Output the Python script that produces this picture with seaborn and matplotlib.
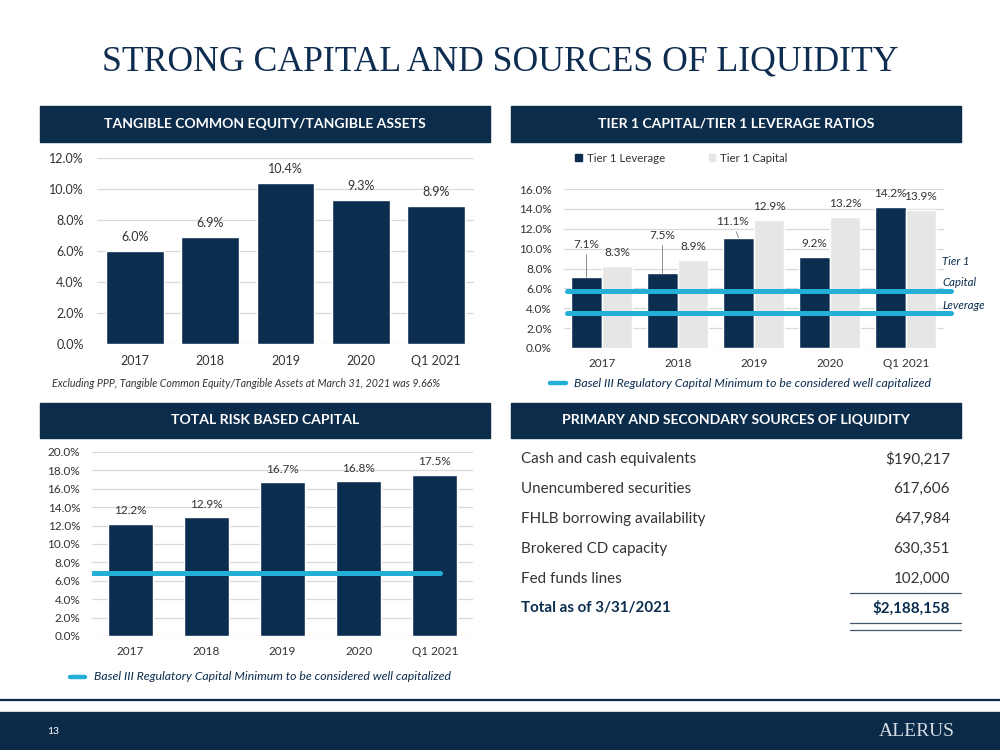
import numpy as np
import pandas as pd
import matplotlib
matplotlib.use('Agg')
import matplotlib.pyplot as plt
import seaborn as sns
from matplotlib.patches import Rectangle, Patch
from matplotlib.lines import Line2D
from matplotlib.ticker import FuncFormatter

# ---- data ----
periods = ['2017', '2018', '2019', '2020', 'Q1 2021']
tce_ratio = [6.0, 6.9, 10.4, 9.3, 8.9]
tier1_leverage = [7.1, 7.5, 11.1, 9.2, 14.2]
tier1_capital = [8.3, 8.9, 12.9, 13.2, 13.9]
total_risk_capital = [12.2, 12.9, 16.7, 16.8, 17.5]
basel_tier1_capital = 5.7
basel_tier1_leverage = 3.5
basel_total_risk = 6.8

liquidity_items = ['Cash and cash equivalents', 'Unencumbered securities',
                   'FHLB borrowing availability', 'Brokered CD capacity',
                   'Fed funds lines']
liquidity_values = [190217, 617606, 647984, 630351, 102000]
liquidity_total_label = 'Total as of 3/31/2021'

NAVY = '#0b2d4f'
HEADER = '#0c2c4c'
LIGHT = '#e6e6e6'
CYAN = '#23afd6'
TEXT = '#333333'
GRID = '#d9d9d9'

sns.set_style('white')
plt.rcParams['font.family'] = ['Lato', 'DejaVu Sans']

W, H = 1000, 750
fig = plt.figure(figsize=(10, 7.5), dpi=100)


def fx(x):
    return x / W


def fy(y):
    return 1 - y / H


def box(x0, y0, x1, y1):
    return [fx(x0), fy(y1), (x1 - x0) / W, (y1 - y0) / H]


def header(x0, y0, x1, y1, text):
    fig.add_artist(Rectangle((fx(x0), fy(y1)), (x1 - x0) / W, (y1 - y0) / H,
                             transform=fig.transFigure, color=HEADER, zorder=0))
    fig.text(fx((x0 + x1) / 2), fy((y0 + y1) / 2), text, color='white',
             fontsize=10.1, fontweight='bold', ha='center', va='center')


def style_axes(ax, ymax, size, ypad, xpad):
    ax.set_xlim(-0.5, 4.5)
    ax.set_ylim(0, ymax)
    ax.set_yticks(np.arange(0, ymax + 0.1, 2))
    ax.yaxis.set_major_formatter(FuncFormatter(lambda v, p: f'{v:.1f}%'))
    ax.grid(axis='y', color=GRID, lw=0.9)
    ax.grid(axis='x', visible=False)
    ax.set_axisbelow(True)
    sns.despine(ax=ax, left=True, bottom=True)
    ax.tick_params(axis='both', length=0, labelsize=size, colors=TEXT)
    ax.tick_params(axis='y', pad=ypad)
    ax.tick_params(axis='x', pad=xpad)
    ax.set_xlabel('')
    ax.set_ylabel('')


def label_bar(ax, bar, size, dx=0, dy=13, leader=False):
    x = bar.get_x() + bar.get_width() / 2
    h = bar.get_height()
    kw = {}
    if leader:
        kw['arrowprops'] = dict(arrowstyle='-', color='#8c8c8c', lw=0.7,
                                shrinkA=1, shrinkB=0)
    ax.annotate(f'{h:.1f}%', xy=(x, h), xytext=(dx * 0.72, dy * 0.72),
                textcoords='offset points', ha='center', va='center',
                fontsize=size, color=TEXT, **kw)


# ---- title ----
fig.text(0.5, fy(62), 'STRONG CAPITAL AND SOURCES OF LIQUIDITY',
         family='Liberation Serif', fontsize=25.7, color='#0e2d50',
         ha='center', va='center')

header(40, 106, 490, 142, 'TANGIBLE COMMON EQUITY/TANGIBLE ASSETS')
header(511, 106, 961, 142, 'TIER 1 CAPITAL/TIER 1 LEVERAGE RATIOS')
header(40, 403, 490, 438, 'TOTAL RISK BASED CAPITAL')
header(511, 403, 961, 438, 'PRIMARY AND SECONDARY SOURCES OF LIQUIDITY')

# ---- tangible common equity ----
ax1 = fig.add_axes(box(97.4, 158, 473.6, 344))
sns.barplot(x=periods, y=tce_ratio, color=NAVY, saturation=1, width=0.77, ax=ax1)
style_axes(ax1, 12, 9, 10, 8)
for bar in ax1.patches:
    label_bar(ax1, bar, 9, dy=14)
fig.text(fx(52), fy(383),
         'Excluding PPP, Tangible Common Equity/Tangible Assets at March 31, 2021 was 9.66%',
         fontsize=7.7, style='italic', color=TEXT, va='center')

# ---- tier 1 ----
tier_df = pd.DataFrame({
    'period': periods * 2,
    'metric': ['Tier 1 Leverage'] * 5 + ['Tier 1 Capital'] * 5,
    'value': tier1_leverage + tier1_capital,
})
ax2 = fig.add_axes(box(563.7, 189, 943.7, 348))
sns.barplot(data=tier_df, x='period', y='value', hue='metric',
            palette=[NAVY, LIGHT], saturation=1, width=0.8, gap=0,
            legend=False, ax=ax2)
style_axes(ax2, 16, 8.5, 8.5, 7)
special = {('Tier 1 Leverage', '2017'): (0, 33),
           ('Tier 1 Leverage', '2018'): (0, 38),
           ('Tier 1 Leverage', '2019'): (-6, 16)}
for metric, cont in zip(['Tier 1 Leverage', 'Tier 1 Capital'], ax2.containers):
    for period, bar in zip(periods, cont):
        if (metric, period) in special:
            dx, dy = special[(metric, period)]
            label_bar(ax2, bar, 8.5, dx=dx, dy=dy, leader=True)
        else:
            label_bar(ax2, bar, 8.5)
for val in [basel_tier1_capital, basel_tier1_leverage]:
    ax2.axhline(val, xmin=0.008, xmax=1.018, color=CYAN, lw=3.6,
                clip_on=False, zorder=3)
fig.text(fx(942), fy(262), 'Tier 1', fontsize=8.2, style='italic', color=NAVY, va='center')
fig.text(fx(942), fy(283), 'Capital', fontsize=8.2, style='italic', color=NAVY, va='center')
fig.text(fx(942), fy(306), 'Leverage', fontsize=8.2, style='italic', color=NAVY, va='center')
fig.legend(handles=[Patch(color=NAVY), Patch(color=LIGHT)],
           labels=['Tier 1 Leverage', 'Tier 1 Capital'],
           loc='center left', bbox_to_anchor=(fx(575), fy(158)), ncol=2,
           frameon=False, fontsize=8.3, borderpad=0, borderaxespad=0,
           handlelength=0.6, handleheight=0.6, handletextpad=0.4,
           columnspacing=3.8, labelcolor=TEXT)

# ---- total risk based capital ----
ax3 = fig.add_axes(box(92, 452, 473, 636))
sns.barplot(x=periods, y=total_risk_capital, color=NAVY, saturation=1,
            width=0.59, ax=ax3)
style_axes(ax3, 20, 8.5, 8.5, 7)
for bar in ax3.patches:
    label_bar(ax3, bar, 8.5)
ax3.axhline(basel_total_risk, xmin=0, xmax=0.913, color=CYAN, lw=3.6, zorder=3)

# basel keys
for lx0, lx1, ly, tx in [(550, 566, 383, 574), (70, 85, 677, 94)]:
    fig.add_artist(Line2D([fx(lx0), fx(lx1)], [fy(ly), fy(ly)], color=CYAN,
                          lw=3.2, transform=fig.transFigure))
    fig.text(fx(tx), fy(ly), 'Basel III Regulatory Capital Minimum to be considered well capitalized',
             fontsize=8.8, style='italic', color=NAVY, va='center')

# ---- liquidity table ----
rows_y = [459, 489, 519, 549, 579]
for i, (item, val) in enumerate(zip(liquidity_items, liquidity_values)):
    txt = f'${val:,}' if i == 0 else f'{val:,}'
    fig.text(fx(521), fy(rows_y[i]), item, fontsize=10.9, color=TEXT, va='center')
    fig.text(fx(950), fy(rows_y[i]), txt, fontsize=10.9, color=TEXT, va='center', ha='right')
fig.text(fx(521), fy(608), liquidity_total_label, fontsize=10.9, color=NAVY,
         fontweight='bold', va='center')
fig.text(fx(950), fy(608), f'${sum(liquidity_values):,}', fontsize=10.9,
         color=NAVY, fontweight='bold', va='center', ha='right')
for ly in [592.5, 622.5, 629.5]:
    fig.add_artist(Line2D([fx(850), fx(961)], [fy(ly), fy(ly)], color='#44546a',
                          lw=0.9, transform=fig.transFigure))

# ---- footer ----
fig.add_artist(Line2D([0, 1], [fy(700), fy(700)], color=HEADER, lw=1.6,
                      transform=fig.transFigure))
fig.add_artist(Rectangle((0, 0), 1, (H - 712) / H, transform=fig.transFigure,
                         color='#0a2a48', zorder=0))
fig.text(fx(47), fy(731), '13', fontsize=7.5, color='white', va='center')
fig.text(fx(955), fy(731), 'ALERUS', family='Liberation Serif', fontsize=14,
         color='#d4dbe3', va='center', ha='right')

fig.savefig('out.png', dpi=100)
